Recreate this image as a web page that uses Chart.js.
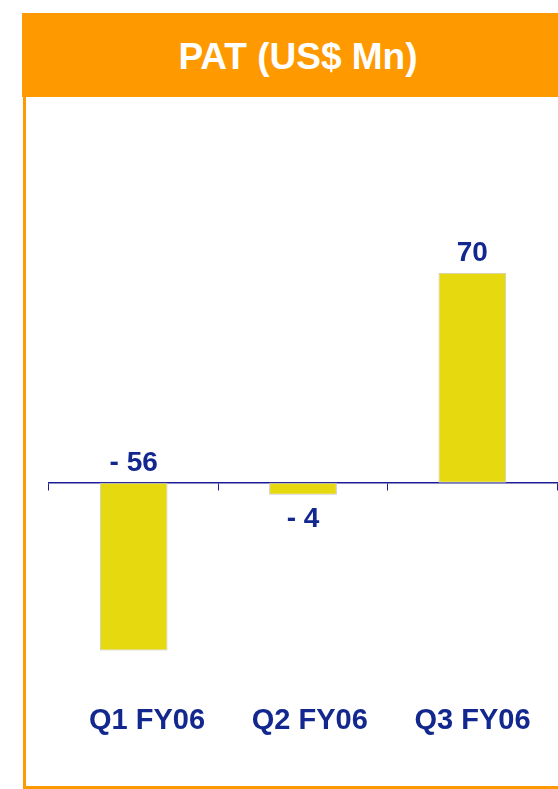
<!DOCTYPE html>
<html>
<head>
<meta charset="utf-8">
<script src="https://cdn.jsdelivr.net/npm/chart.js@4/dist/chart.umd.min.js"></script>
<style>
  html, body { margin: 0; padding: 0; background: #ffffff; }
  body { width: 558px; height: 789px; position: relative; overflow: hidden; font-family: "Liberation Sans", Arial, sans-serif; }
  #header { position: absolute; left: 22px; top: 13px; width: 536px; height: 84px; background: #FF9900;
            color: #ffffff; font-weight: bold; font-size: 37px; display: flex; align-items: center; justify-content: center;
            box-sizing: border-box; padding-left: 16px; padding-top: 4px; }
  #box { position: absolute; left: 23px; top: 97px; width: 560px; height: 692px; box-sizing: border-box;
         border-left: 3px solid #FF9900; border-bottom: 3px solid #FF9900; }
  #wrap { position: absolute; left: 0; top: 0; width: 558px; height: 789px; }
</style>
</head>
<body>
<div id="header">PAT (US$ Mn)</div>
<div id="box"></div>
<div id="wrap"><canvas id="c" width="558" height="789"></canvas></div>
<script>
// ---- data ----
const categories = ['Q1 FY06', 'Q2 FY06', 'Q3 FY06'];
const patValues = [-56, -4, 70];
const labelAnchor = ['base', 'end', 'end'];

const NAVY = '#13288f';
const AXIS = '#1c1c96';
const FONT = '"Liberation Sans", Arial, sans-serif';

const valueLabelPlugin = {
  id: 'valueLabels',
  afterDatasetsDraw(chart) {
    const meta = chart.getDatasetMeta(0);
    const ctx = chart.ctx;
    ctx.save();
    ctx.font = 'bold 28px ' + FONT;
    ctx.fillStyle = NAVY;
    ctx.textAlign = 'center';
    ctx.textBaseline = 'middle';
    meta.data.forEach((el, i) => {
      const v = patValues[i];
      const p = el.getProps(['x', 'y', 'base'], true);
      let y;
      if (labelAnchor[i] === 'base') y = p.base - 19;
      else y = v >= 0 ? p.y - 19 : p.y + 25;
      const txt = v < 0 ? '- ' + Math.abs(v) : String(v);
      ctx.fillText(txt, p.x, y);
    });
    ctx.restore();
  }
};

new Chart(document.getElementById('c'), {
  type: 'bar',
  data: {
    labels: categories,
    datasets: [{
      data: patValues,
      backgroundColor: '#E6D90F',
      borderColor: '#c8c8c8',
      borderWidth: 1,
      borderSkipped: false,
      barPercentage: 0.4,
      categoryPercentage: 1.0
    }]
  },
  options: {
    responsive: false,
    animation: false,
    devicePixelRatio: 1,
    layout: { padding: { left: 49, right: 1, top: 182.7, bottom: 39.6 } },
    plugins: { legend: { display: false }, tooltip: { enabled: false }, title: { display: false } },
    scales: {
      x: {
        type: 'category',
        position: { y: 0 },
        z: 1,
        offset: true,
        grid: { display: true, drawOnChartArea: false, drawTicks: true, tickLength: 7, color: AXIS, lineWidth: 1, offset: true },
        border: { display: true, color: AXIS, width: 1.5 },
        ticks: { display: false }
      },
      x2: {
        type: 'linear',
        position: 'bottom',
        offset: false,
        min: -0.602,
        max: 2.519,
        grid: { display: false, drawTicks: false, offset: false },
        border: { display: false },
        afterBuildTicks: (axis) => { axis.ticks = categories.map((c, i) => ({ value: i })); },
        ticks: {
          padding: 11,
          autoSkip: false,
          maxRotation: 0,
          color: NAVY,
          font: { family: FONT, size: 29, weight: 'bold' },
          callback: (v) => categories[v] !== undefined ? categories[v] : ''
        }
      },
      y: {
        display: false,
        min: -70,
        max: 100
      }
    }
  },
  plugins: [valueLabelPlugin]
});
</script>
</body>
</html>
